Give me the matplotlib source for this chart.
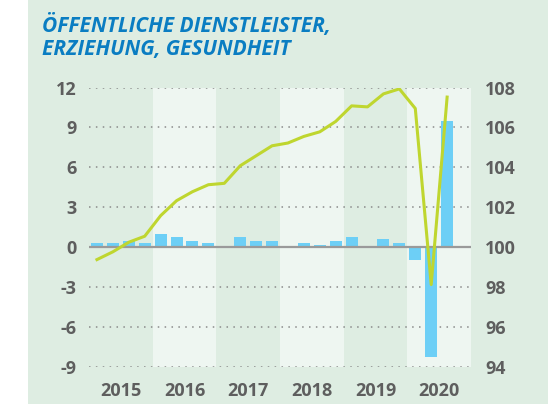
import matplotlib
matplotlib.use("Agg")
import matplotlib.pyplot as plt
from matplotlib.patches import Rectangle
import numpy as np

plt.rcParams["font.family"] = ["Open Sans", "DejaVu Sans"]
plt.rcParams["axes.unicode_minus"] = False

# quarterly data 2015 Q1 .. 2020 Q3
years = ["2015", "2016", "2017", "2018", "2019", "2020"]
change = [0.28, 0.35, 0.43, 0.35,
          1.03, 0.80, 0.43, 0.35,
          -0.05, 0.80, 0.50, 0.50,
          0.12, 0.28, 0.20, 0.50,
          0.73, -0.08, 0.58, 0.28,
          -0.98, -8.25, 9.5]
index = [99.38, 99.77, 100.25, 100.55,
         101.58, 102.33, 102.78, 103.13,
         103.20, 104.08, 104.58, 105.08,
         105.22, 105.55, 105.78, 106.30,
         107.08, 107.03, 107.68, 107.93,
         106.95, 98.13, 107.52]
left_ticks = [-9, -6, -3, 0, 3, 6, 9, 12]
right_ticks = [94, 96, 98, 100, 102, 104, 106, 108]

bg = "#deede2"
band = "#eef6f1"
grey = "#5e5e5e"

fig = plt.figure(figsize=(5.48, 4.04), dpi=100)
fig.patches.append(Rectangle((28 / 548, 0), 1, 1, transform=fig.transFigure,
                             facecolor=bg, edgecolor="none", zorder=-10))

ax = fig.add_axes([89 / 548, 1 - 367 / 404, 382 / 548, 279.5 / 404])
ax.set_facecolor("none")
ax.set_xlim(-0.5, 23.5)
ax.set_ylim(-9, 12)

# alternating year bands
for i in range(len(years)):
    if i % 2 == 1:
        ax.axvspan(i * 4 - 0.5, i * 4 + 3.5, color=band, zorder=0, lw=0)
    ax.text(i * 4 + 1.5, -0.086, years[i], transform=ax.get_xaxis_transform(),
            ha="center", va="center", fontsize=13, fontweight="bold", color=grey)

for t in left_ticks:
    if t != 0:
        ax.axhline(t, color="#8a8a8a", lw=1.1, ls=(0, (1, 3.5)), zorder=1)
ax.axhline(0, color="#9a9a9a", lw=1.6, zorder=3)

x = np.arange(len(change))
ax.bar(x, change, width=0.75, color="#6dcff6", zorder=2)

ax2 = ax.twinx()
ax2.set_ylim(94, 108)
ax2.plot(x, index, color="#bfd62f", lw=2.2, zorder=5)

ax.set_yticks(left_ticks)
ax2.set_yticks(right_ticks)
for a in (ax, ax2):
    a.set_xticks([])
    for s in a.spines.values():
        s.set_visible(False)
    a.tick_params(axis="y", length=0, labelsize=13, labelcolor=grey)
    for lab in a.get_yticklabels():
        lab.set_fontweight("bold")
ax.tick_params(axis="y", pad=9)
ax2.tick_params(axis="y", pad=10)

fig.text(42 / 548, 1 - 37 / 404, "ÖFFENTLICHE DIENSTLEISTER,\nERZIEHUNG, GESUNDHEIT",
         ha="left", va="center", fontsize=15, fontweight="bold", style="italic",
         color="#0a7dc2", linespacing=1.13)

fig.savefig("out.png", dpi=100)
